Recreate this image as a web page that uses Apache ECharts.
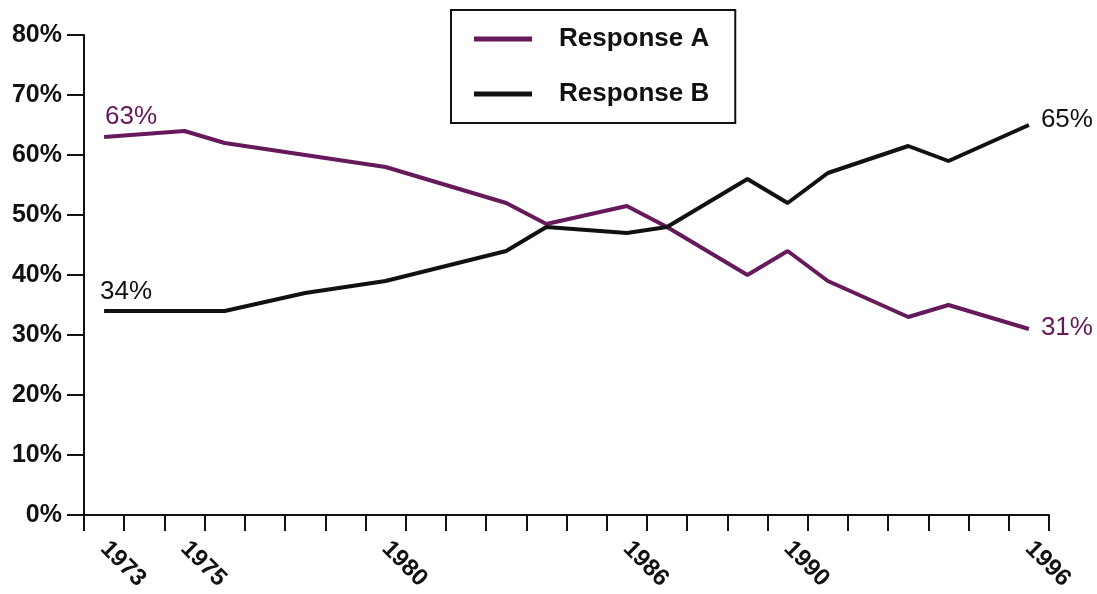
<!DOCTYPE html>
<html>
<head>
<meta charset="utf-8">
<script src="https://cdn.jsdelivr.net/npm/echarts@6/dist/echarts.min.js"></script>
<style>
html,body{margin:0;padding:0;background:#fff;}
#chart{width:1097px;height:594px;}
</style>
</head>
<body>
<div id="chart"></div>
<script>
// Axis categories (one per year, ticks between years)
const axisYears = ['1973','1974','1975','1976','1977','1978','1979','1980','1981','1982','1983','1984',
  '1985','1986','1987','1988','1989','1990','1991','1992','1993','1994','1995','1996'];
const labeledYears = ['1973','1975','1980','1986','1990','1996'];
const yTicks = [0,10,20,30,40,50,60,70,80];

// Survey years and values (%)
const surveyYears = ['1973','1975','1976','1978','1980','1983','1984','1986','1987','1989','1990','1991','1993','1994','1996'];
const responseA = [63, 64, 62, 60, 58, 52, 48.5, 51.5, 48, 40, 44, 39, 33, 35, 31];
const responseB = [34, 34, 34, 37, 39, 44, 48, 47, 48, 56, 52, 57, 61.5, 59, 65];
const seriesNames = ['Response A', 'Response B'];

const purple = '#66195b';
const black = '#111111';
const font = 'Liberation Sans, Arial, Helvetica, sans-serif';

function buildData(values, color, firstLabelOpts, lastLabelOpts) {
  return values.map((v, i) => {
    const item = { value: [surveyYears[i], v] };
    const base = { show: true, color: color, fontSize: 26, fontFamily: font, formatter: p => p.value[1] + '%' };
    if (i === 0) item.label = Object.assign({}, base, firstLabelOpts);
    if (i === values.length - 1) item.label = Object.assign({}, base, lastLabelOpts);
    return item;
  });
}

const chart = echarts.init(document.getElementById('chart'));
chart.setOption({
  backgroundColor: '#ffffff',
  animation: false,
  grid: { left: 84, right: 48, top: 35, bottom: 79 },
  legend: {
    orient: 'vertical',
    left: 451, top: 10,
    padding: [16, 26, 16, 23],
    borderColor: '#111', borderWidth: 2,
    itemWidth: 58, itemHeight: 5, itemGap: 29,
    icon: 'rect',
    textStyle: { fontSize: 26, fontWeight: 'bold', color: '#111', fontFamily: font, padding: [0, 0, 0, 22] },
    data: seriesNames
  },
  xAxis: {
    type: 'category',
    data: axisYears,
    boundaryGap: true,
    axisLine: { lineStyle: { color: '#111', width: 2 } },
    axisTick: { show: true, interval: 0, length: 16, lineStyle: { color: '#111', width: 2 } },
    axisLabel: {
      interval: (idx, val) => labeledYears.includes(val),
      rotate: -45,
      margin: 30,
      fontSize: 24, fontWeight: 'bold', color: '#111', fontFamily: font
    },
    splitLine: { show: false }
  },
  yAxis: {
    type: 'value',
    min: yTicks[0], max: yTicks[yTicks.length - 1], interval: 10,
    axisLine: { show: true, lineStyle: { color: '#111', width: 2 } },
    axisTick: { show: true, length: 17, lineStyle: { color: '#111', width: 2 } },
    axisLabel: { formatter: '{value}%', margin: 22, fontSize: 25, fontWeight: 'bold', color: '#111', fontFamily: font },
    splitLine: { show: false }
  },
  series: [
    {
      name: seriesNames[0], type: 'line',
      symbol: 'circle', symbolSize: 0, showSymbol: true,
      color: purple,
      lineStyle: { width: 4, color: purple },
      data: buildData(responseA, purple,
        { position: 'top', align: 'left', distance: 7, offset: [1, 0] },
        { position: 'right', distance: 12, offset: [0, -1] })
    },
    {
      name: seriesNames[1], type: 'line',
      symbol: 'circle', symbolSize: 0, showSymbol: true,
      color: black,
      lineStyle: { width: 4, color: black },
      data: buildData(responseB, black,
        { position: 'top', align: 'left', distance: 6, offset: [-4, 0] },
        { position: 'right', distance: 12, offset: [0, -5] })
    }
  ]
});
</script>
</body>
</html>
